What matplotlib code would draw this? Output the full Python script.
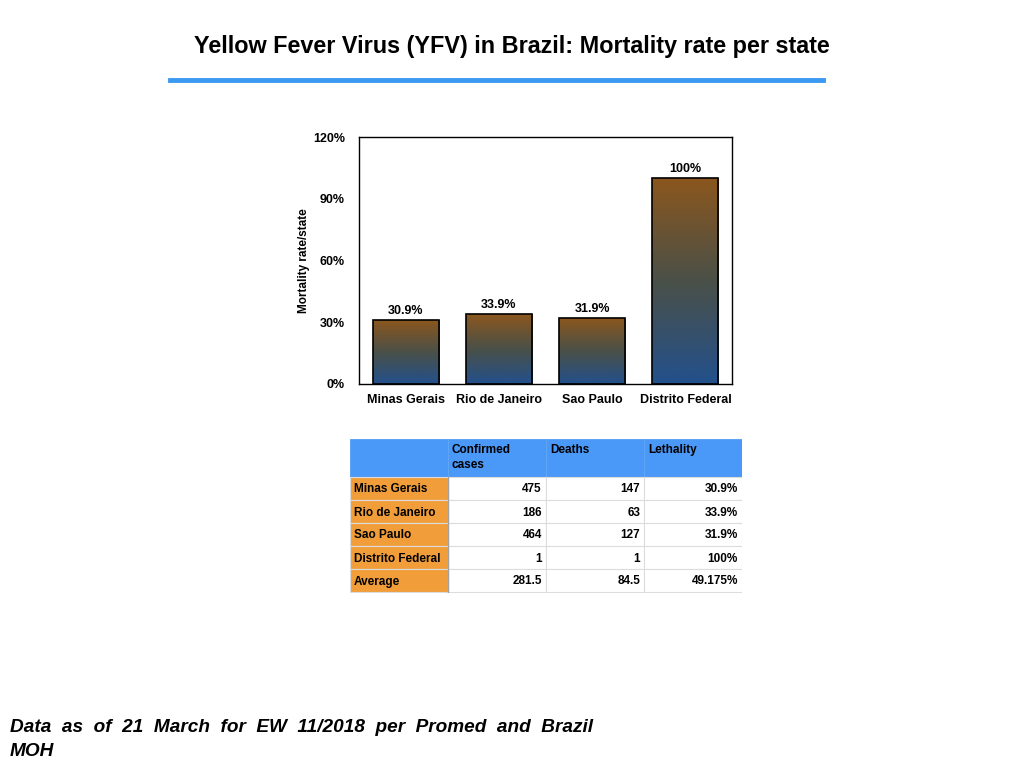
import numpy as np
import matplotlib
matplotlib.use("Agg")
import matplotlib.pyplot as plt
from matplotlib.patches import Rectangle
from matplotlib.colors import LinearSegmentedColormap

plt.rcParams['font.family'] = ['Liberation Sans', 'DejaVu Sans']

states = ["Minas Gerais", "Rio de Janeiro", "Sao Paulo", "Distrito Federal"]
mortality = [30.9, 33.9, 31.9, 100.0]
bar_labels = ["30.9%", "33.9%", "31.9%", "100%"]
yticks = [0, 30, 60, 90, 120]

table_header = ["", "Confirmed\ncases", "Deaths", "Lethality"]
row_names = ["Minas Gerais", "Rio de Janeiro", "Sao Paulo", "Distrito Federal", "Average"]
confirmed = ["475", "186", "464", "1", "281.5"]
deaths = ["147", "63", "127", "1", "84.5"]
lethality = ["30.9%", "33.9%", "31.9%", "100%", "49.175%"]

W, H = 1024, 768
fig = plt.figure(figsize=(W / 100, H / 100), dpi=100)

def px_axes(x0, y0, x1, y1):
    return fig.add_axes([x0 / W, 1 - y1 / H, (x1 - x0) / W, (y1 - y0) / H])

# title and rule
fig.text(512 / W, 1 - 46 / H, "Yellow Fever Virus (YFV) in Brazil: Mortality rate per state",
         ha="center", va="center", fontsize=16.8, fontweight="bold")
fig.add_artist(plt.Line2D([170 / W, 823 / W], [1 - 80 / H, 1 - 80 / H],
                          color="#3b99f2", linewidth=3.5, transform=fig.transFigure))

# bar chart
ax = px_axes(359, 137, 732, 384)
cmap = LinearSegmentedColormap.from_list("grad", ["#23508c", "#4a5048", "#8b571e"])
grad = np.linspace(0, 1, 256).reshape(-1, 1)
x = np.arange(len(states))
bw = 0.71
bars = ax.bar(x, mortality, width=bw, color="none", edgecolor="black", linewidth=1.2, zorder=3)
for b, lab in zip(bars, bar_labels):
    bx, by = b.get_x(), b.get_y()
    h = b.get_height()
    im = ax.imshow(grad, cmap=cmap, aspect="auto", origin="lower",
                   extent=[bx, bx + b.get_width(), by, by + h], zorder=2)
    im.set_clip_path(b)
    ax.text(bx + b.get_width() / 2, h + 1.5, lab, ha="center", va="bottom",
            fontsize=9, fontweight="bold")
ax.set_xlim(-0.5, len(states) - 0.5)
ax.set_ylim(0, 120)
ax.set_yticks(yticks)
ax.set_yticklabels([f"{t}%" for t in yticks], fontsize=9, fontweight="bold")
ax.set_xticks(x)
ax.set_xticklabels(states, fontsize=9, fontweight="bold")
ax.tick_params(length=0, pad=10)
ax.tick_params(axis="x", pad=7)
ax.set_ylabel("Mortality rate/state", fontsize=8.5, fontweight="bold", labelpad=2)
for s in ax.spines.values():
    s.set_linewidth(1)

# table
tx0, ty0, tx1, ty1 = 350, 439, 742, 593
tax = px_axes(tx0, ty0, tx1, ty1)
tax.set_xlim(0, tx1 - tx0)
tax.set_ylim(ty1 - ty0, 0)
tax.axis("off")
col_w = [98, 98, 98, 98]
head_h = 38
row_h = 23
col_x = np.concatenate([[0], np.cumsum(col_w)])
blue = "#4a98f7"
orange = "#f09d3a"
grid = "#dcdcdc"

for j in range(4):
    tax.add_patch(Rectangle((col_x[j], 0), col_w[j], head_h, facecolor=blue,
                            edgecolor="#5fa5f5", linewidth=0.8))
    if table_header[j]:
        tax.text(col_x[j] + 4, 5.5, table_header[j], ha="left", va="top",
                 fontsize=8.5, fontweight="bold", linespacing=1.3)

columns = [row_names, confirmed, deaths, lethality]
for i in range(len(row_names)):
    y = head_h + i * row_h
    for j in range(4):
        fc = orange if j == 0 else "white"
        tax.add_patch(Rectangle((col_x[j], y), col_w[j], row_h, facecolor=fc,
                                edgecolor=grid, linewidth=0.8))
        if j == 0:
            tax.text(col_x[j] + 4, y + row_h / 2 + 1, columns[j][i], ha="left", va="center",
                     fontsize=8.5, fontweight="bold")
        else:
            tax.text(col_x[j + 1] - 4, y + row_h / 2 + 1, columns[j][i], ha="right", va="center",
                     fontsize=8.5, fontweight="bold")
tax.plot([col_x[1], col_x[1]], [head_h, ty1 - ty0], color="#a0a0a0", linewidth=1)

# footer
fig.text(10 / W, 1 - 727 / H, "Data  as  of  21  March  for  EW  11/2018  per  Promed  and  Brazil",
         ha="left", va="center", fontsize=13.7, fontweight="bold", style="italic")
fig.text(10 / W, 1 - 751 / H, "MOH",
         ha="left", va="center", fontsize=13.7, fontweight="bold", style="italic")

fig.savefig("out.png", dpi=100)
